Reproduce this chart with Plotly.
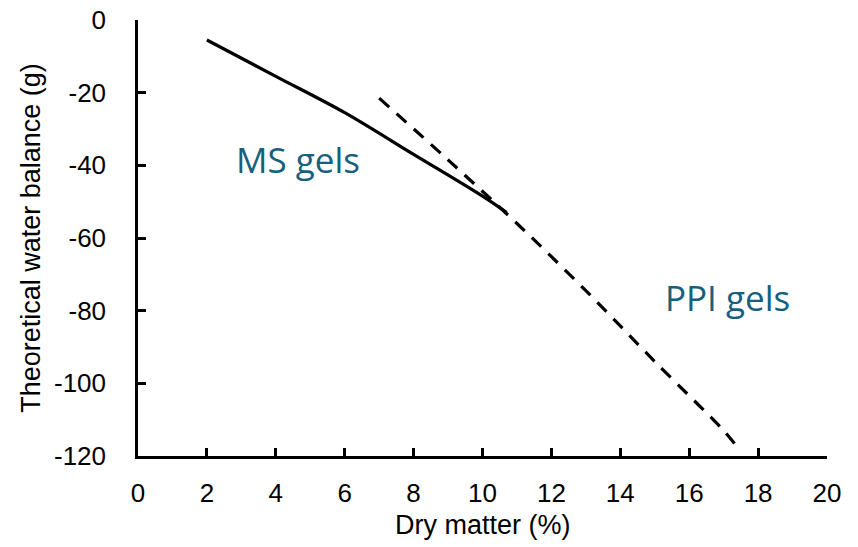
import plotly.graph_objects as go

ms_x = [2, 4, 6, 8, 10, 10.7]
ms_y = [-5.5, -15.5, -25.5, -37, -48.5, -53]
ppi_x = [7, 9, 11, 13, 15, 17, 17.35]
ppi_y = [-21.5, -38.5, -56, -74.5, -94, -113, -117]
x_ticks = list(range(0, 21, 2))
y_ticks = list(range(-120, 1, 20))
y_tick_text = [str(v) for v in y_ticks]  # hyphen-minus like the original

fig = go.Figure()
fig.add_trace(go.Scatter(x=ms_x, y=ms_y, mode="lines", name="MS gels",
                         line=dict(color="black", width=3.2), line_shape="spline"))
fig.add_trace(go.Scatter(x=ppi_x, y=ppi_y, mode="lines", name="PPI gels",
                         line=dict(color="black", width=3.2, dash="13px,10px"), line_shape="spline"))

lab_font = dict(family="Open Sans", size=35, color="#17607D")
fig.add_annotation(x=4.64, y=-38.5, text="MS gels", showarrow=False, font=lab_font)
fig.add_annotation(x=17.1, y=-76.5, text="PPI gels", showarrow=False, font=lab_font)

tick_font = dict(family="Liberation Sans, Arial", size=26, color="black")
title_font = dict(family="Liberation Sans, Arial", size=27, color="black")

# x-axis title placed as paper-referenced text, just below the tick labels
fig.add_annotation(xref="paper", yref="paper", x=0.5, y=-0.158, yanchor="middle",
                   text="Dry matter (%)", showarrow=False, font=title_font)

fig.update_layout(
    width=858, height=547,
    margin=dict(l=138, r=31, t=20, b=91),
    paper_bgcolor="white", plot_bgcolor="white",
    showlegend=False,
    xaxis=dict(range=[0, 20], tickvals=x_ticks, showline=True, linecolor="black", linewidth=2.5,
               ticks="inside", ticklen=8, tickwidth=2.5, tickcolor="black", showgrid=False,
               zeroline=False, tickfont=tick_font, ticklabelstandoff=12, automargin=False),
    yaxis=dict(range=[-120, 0], tickvals=y_ticks, ticktext=y_tick_text, showline=True,
               linecolor="black", linewidth=2.5,
               ticks="inside", ticklen=8, tickwidth=2.5, tickcolor="black", showgrid=False,
               zeroline=False, tickfont=tick_font, ticklabelstandoff=24, automargin=False,
               title=dict(text="Theoretical water balance (g)", font=title_font, standoff=6)),
)
fig.write_html("out.html")
